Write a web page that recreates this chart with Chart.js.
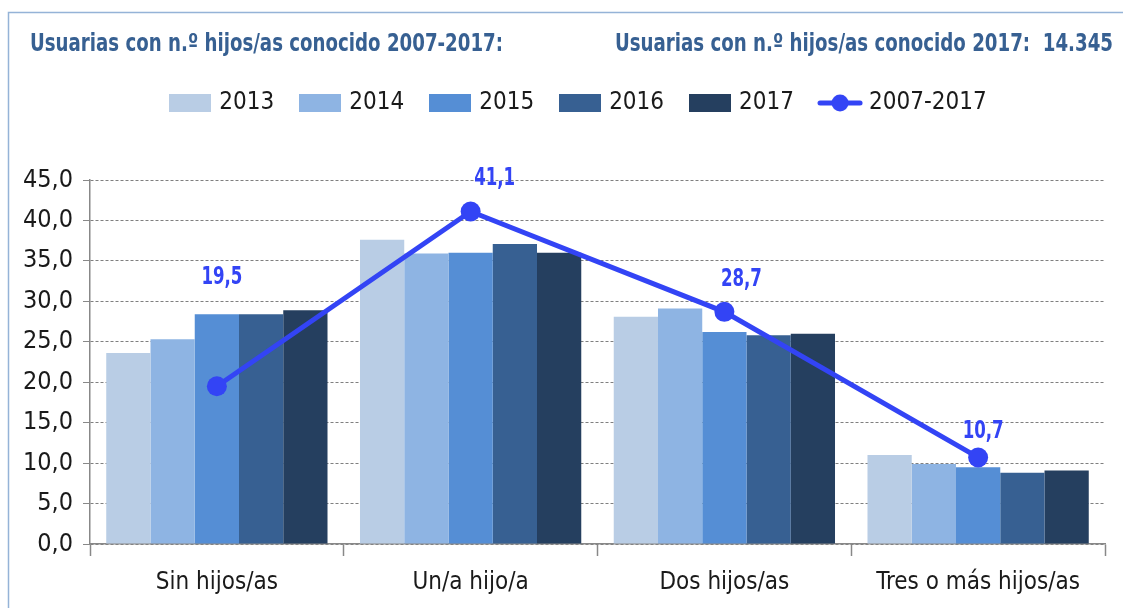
<!DOCTYPE html>
<html>
<head>
<meta charset="utf-8">
<script src="https://cdn.jsdelivr.net/npm/chart.js@4.4.1/dist/chart.umd.min.js"></script>
<style>
  html, body { margin: 0; padding: 0; background: #ffffff; }
  #wrap { width: 1123px; height: 608px; position: relative; }
</style>
</head>
<body>
<div id="wrap"><canvas id="c" width="1123" height="608"></canvas></div>
<script>
// ---- data ----
const categories = ['Sin hijos/as', 'Un/a hijo/a', 'Dos hijos/as', 'Tres o más hijos/as'];
const years = ['2013', '2014', '2015', '2016', '2017'];
const v2013 = [23.6, 37.6, 28.1, 11.0];
const v2014 = [25.3, 35.9, 29.1, 9.9];
const v2015 = [28.4, 36.0, 26.2, 9.5];
const v2016 = [28.4, 37.1, 25.8, 8.8];
const v2017 = [28.9, 36.0, 26.0, 9.1];
const lineLabel = '2007-2017';
const v20072017 = [19.5, 41.1, 28.7, 10.7];
const yTicks = [0, 5, 10, 15, 20, 25, 30, 35, 40, 45];
const titleLeft = 'Usuarias con n.º hijos/as conocido 2007-2017:';
const titleRight = 'Usuarias con n.º hijos/as conocido 2017:  14.345';

// ---- style ----
const FONT = "'Liberation Sans Narrow', 'DejaVu Sans Condensed', 'Arial Narrow', sans-serif";
const barColors = ['#B9CDE5', '#8EB4E3', '#558ED5', '#376092', '#253F5F'];
const lineColor = '#3344F5';
const titleColor = '#376092';
const textColor = '#1a1a1a';
const labelOffsets = [[5, -109], [24, -33], [17, -32], [5, -26]];

function rectStyle(color) {
  const c = document.createElement('canvas');
  c.width = 42; c.height = 18;
  const x = c.getContext('2d');
  x.fillStyle = color; x.fillRect(0, 0, 42, 18);
  return c;
}
function lineStyle(color) {
  const c = document.createElement('canvas');
  c.width = 46; c.height = 22;
  const x = c.getContext('2d');
  x.strokeStyle = color; x.lineWidth = 5; x.lineCap = 'round';
  x.beginPath(); x.moveTo(3, 11); x.lineTo(43, 11); x.stroke();
  x.fillStyle = color; x.beginPath(); x.arc(23, 11, 8.5, 0, Math.PI * 2); x.fill();
  return c;
}

const barSeries = [v2013, v2014, v2015, v2016, v2017];
const datasets = barSeries.map((d, i) => ({
  type: 'bar',
  label: years[i],
  data: d,
  backgroundColor: barColors[i],
  borderWidth: 0,
  categoryPercentage: 0.872,
  barPercentage: 1.0,
  order: 2,
  legendStyle: rectStyle(barColors[i])
}));
datasets.push({
  type: 'line',
  label: lineLabel,
  data: v20072017,
  borderColor: lineColor,
  backgroundColor: lineColor,
  borderWidth: 5,
  pointRadius: 10,
  pointBackgroundColor: lineColor,
  pointBorderWidth: 0,
  tension: 0,
  order: 1,
  legendStyle: lineStyle(lineColor)
});

const fmt = v => v.toFixed(1).replace('.', ',');

// draw text squeezed horizontally so it fits a given width (condensed look)
function squeezedText(ctx, text, x, y, font, targetWidth, align) {
  ctx.font = font;
  const w = ctx.measureText(text).width;
  const sx = Math.min(1, targetWidth / w);
  ctx.save();
  ctx.translate(x, y);
  ctx.scale(sx, 1);
  ctx.textAlign = align;
  ctx.fillText(text, 0, 0);
  ctx.restore();
}

const decor = {
  id: 'decor',
  beforeDraw(chart) {
    // draw y tick labels without clipping to the scale box
    if (chart.scales.y) chart.scales.y._computeLabelArea = () => undefined;
    const ctx = chart.ctx;
    ctx.save();
    ctx.fillStyle = '#ffffff';
    ctx.fillRect(0, 0, chart.width, chart.height);
    ctx.strokeStyle = '#95B3D7';
    ctx.lineWidth = 1.5;
    ctx.beginPath();
    ctx.moveTo(8.5, chart.height + 5);
    ctx.lineTo(8.5, 12.5);
    ctx.lineTo(chart.width + 5, 12.5);
    ctx.stroke();
    ctx.fillStyle = titleColor;
    ctx.textBaseline = 'middle';
    squeezedText(ctx, titleLeft, 30, 44, 'bold 25px ' + FONT, 473, 'left');
    squeezedText(ctx, titleRight, 1113, 44, 'bold 25px ' + FONT, 498, 'right');
    ctx.restore();
  },
  afterDatasetsDraw(chart) {
    const ctx = chart.ctx;
    const idx = chart.data.datasets.length - 1;
    const meta = chart.getDatasetMeta(idx);
    ctx.save();
    ctx.fillStyle = lineColor;
    ctx.textBaseline = 'middle';
    meta.data.forEach((pt, i) => {
      const o = labelOffsets[i];
      squeezedText(ctx, fmt(chart.data.datasets[idx].data[i]), pt.x + o[0], pt.y + o[1], 'bold 25px ' + FONT, 41, 'center');
    });
    ctx.restore();
  }
};

new Chart(document.getElementById('c'), {
  data: { labels: categories, datasets },
  options: {
    responsive: false,
    animation: false,
    devicePixelRatio: 1,
    layout: { padding: { left: 55, right: 18, top: 62, bottom: 0 } },
    plugins: {
      tooltip: { enabled: false },
      legend: {
        position: 'top',
        align: 'center',
        labels: {
          usePointStyle: true,
          pointStyleWidth: 34,
          padding: 29,
          color: textColor,
          font: { family: FONT, size: 24 },
          generateLabels(chart) {
            return chart.data.datasets.map((ds, i) => ({
              text: ds.label,
              pointStyle: ds.legendStyle,
              fillStyle: ds.backgroundColor,
              strokeStyle: ds.backgroundColor,
              lineWidth: 0,
              hidden: false,
              datasetIndex: i,
              fontColor: textColor
            }));
          }
        }
      }
    },
    scales: {
      x: {
        type: 'category',
        offset: true,
        afterFit: s => { s.height = 64; },
        grid: { display: true, offset: true, drawOnChartArea: false, drawTicks: true, tickLength: 12, tickColor: '#888888', tickWidth: 1.5 },
        border: { display: true, color: '#888888', width: 1.5 },
        ticks: { padding: 12, color: textColor, font: { family: FONT, size: 24 }, maxRotation: 0 }
      },
      xTopSpacer: {
        type: 'category',
        axis: 'x',
        position: 'top',
        display: true,
        afterFit: s => { s.height = 55; },
        grid: { display: false },
        border: { display: false },
        ticks: { display: false }
      },
      y: {
        type: 'linear',
        min: 0, max: 45,
        afterFit: s => { s.width = 35; },
        afterBuildTicks: s => { s.ticks = yTicks.map(v => ({ value: v })); },
        grid: { color: '#7f7f7f', lineWidth: 1, tickLength: 7, tickColor: '#888888', tickBorderDash: [], drawTicks: true },
        border: { display: true, color: '#888888', width: 1.5, dash: [3, 2] },
        ticks: { padding: 10, color: textColor, font: { family: FONT, size: 25 }, callback: v => fmt(v) }
      }
    }
  },
  plugins: [decor]
});
</script>
</body>
</html>
